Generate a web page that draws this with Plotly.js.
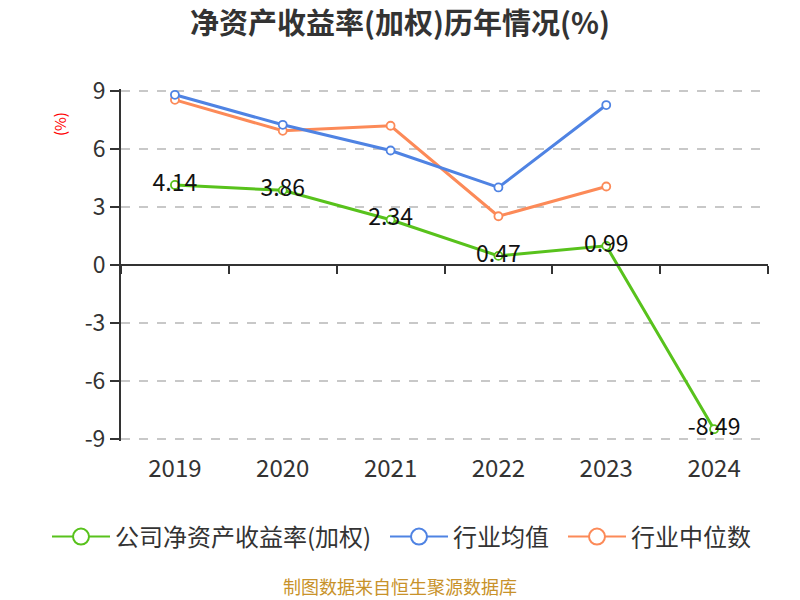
<!DOCTYPE html>
<html>
<head>
<meta charset="utf-8">
<script src="https://cdn.plot.ly/plotly-3.0.1.min.js"></script>
<style>html,body{margin:0;padding:0;background:#fff;}#chart{width:800px;height:600px;}</style>
</head>
<body>
<div id="chart"></div>
<script>
const years = ['2019', '2020', '2021', '2022', '2023', '2024'];
const companyRoe = [4.14, 3.86, 2.34, 0.47, 0.99, -8.49];
const industryMean = [8.80, 7.25, 5.92, 4.01, 8.27, null];
const industryMedian = [8.54, 6.94, 7.20, 2.52, 4.06, null];
const seriesNames = ['公司净资产收益率(加权)', '行业均值', '行业中位数'];
const yTicks = [-9, -6, -3, 0, 3, 6, 9];

const FONT = '"Noto Sans CJK SC", "Noto Sans", sans-serif';
const colors = ['#58c21c', '#4f83e3', '#fc8a58'];

function lineTrace(y, color, withText) {
  const t = {
    x: years, y: y, type: 'scatter',
    mode: withText ? 'lines+markers+text' : 'lines+markers',
    line: {color: color, width: 3},
    marker: {symbol: 'circle', size: 8, color: '#fff', line: {color: color, width: 1.8}},
    showlegend: false, hoverinfo: 'skip', cliponaxis: false
  };
  if (withText) {
    t.text = y.map(v => v.toFixed(2));
    t.textposition = 'middle center';
    t.textfont = {family: FONT, size: 23, color: '#111'};
  }
  return t;
}
function legendTrace(name, color, legendId) {
  return {
    x: [null], y: [null], type: 'scatter', mode: 'lines+markers', name: name,
    legend: legendId,
    line: {color: color, width: 2},
    marker: {symbol: 'circle', size: 16, color: '#fff', line: {color: color, width: 2}},
    hoverinfo: 'skip'
  };
}

const data = [
  {x: years, y: companyRoe, xaxis: 'x2', type: 'scatter', mode: 'lines', opacity: 0,
   showlegend: false, hoverinfo: 'skip'},
  lineTrace(industryMedian, colors[2], false),
  lineTrace(industryMean, colors[1], false),
  lineTrace(companyRoe, colors[0], true),
  legendTrace(seriesNames[0], colors[0], 'legend'),
  legendTrace(seriesNames[1], colors[1], 'legend2'),
  legendTrace(seriesNames[2], colors[2], 'legend3')
];

function legendAt(px) {
  return {
    orientation: 'h', xref: 'paper', x: (px - 121) / 647, xanchor: 'left',
    yref: 'paper', y: (441 - 537) / 352, yanchor: 'middle',
    font: {family: FONT, size: 24, color: '#333'}, itemwidth: 58, bgcolor: 'rgba(0,0,0,0)'
  };
}

const layout = {
  width: 800, height: 600,
  margin: {l: 121, r: 32, t: 89, b: 159},
  paper_bgcolor: '#fff', plot_bgcolor: '#fff',
  font: {family: FONT, color: '#333'},
  title: {text: '<b>净资产收益率(加权)历年情况(%)</b>', font: {family: FONT, size: 29, color: '#333'},
          x: 0.5, xanchor: 'center', y: 0.96, yanchor: 'middle'},
  xaxis: {
    type: 'category', range: [-0.5, 5.5], showline: false, showgrid: false, zeroline: false,
    ticks: 'outside', ticklen: 6, tickcolor: 'rgba(0,0,0,0)',
    tickfont: {family: FONT, size: 24, color: '#333'}, fixedrange: true
  },
  xaxis2: {
    type: 'category', overlaying: 'x', anchor: 'free', position: 0.5, side: 'bottom',
    range: [-0.5, 5.5], tickson: 'boundaries', ticks: 'outside', ticklen: 8, tickwidth: 2,
    tickcolor: '#333', showline: true, linecolor: '#333', linewidth: 2,
    showgrid: false, zeroline: false, showticklabels: false
  },
  yaxis: {
    range: [-9.1, 9.1], tickvals: yTicks, ticktext: yTicks.map(String),
    showline: true, linecolor: '#333', linewidth: 2,
    ticks: 'outside', ticklen: 9, tickwidth: 2, tickcolor: '#333',
    showgrid: true, gridcolor: '#c8c8c8', griddash: 'dash', gridwidth: 1.5,
    zeroline: false, tickfont: {family: FONT, size: 23, color: '#333'}
  },
  legend: legendAt(47),
  legend2: legendAt(385),
  legend3: legendAt(563),
  annotations: [
    {text: '(%)', xref: 'paper', yref: 'paper', x: -0.096, y: 0.90, showarrow: false,
     textangle: -90, font: {family: FONT, size: 15, color: '#ff0000'}, xanchor: 'center', yanchor: 'middle'},
    {text: '制图数据来自恒生聚源数据库', xref: 'paper', yref: 'paper', x: 0.5 - (121 - 32) / 2 / 647, y: (441 - 586) / 352,
     showarrow: false, font: {family: FONT, size: 18, color: '#c8922a'}, xanchor: 'center', yanchor: 'middle'}
  ],
  showlegend: true
};

Plotly.newPlot('chart', data, layout, {displayModeBar: false, staticPlot: true});
</script>
</body>
</html>
